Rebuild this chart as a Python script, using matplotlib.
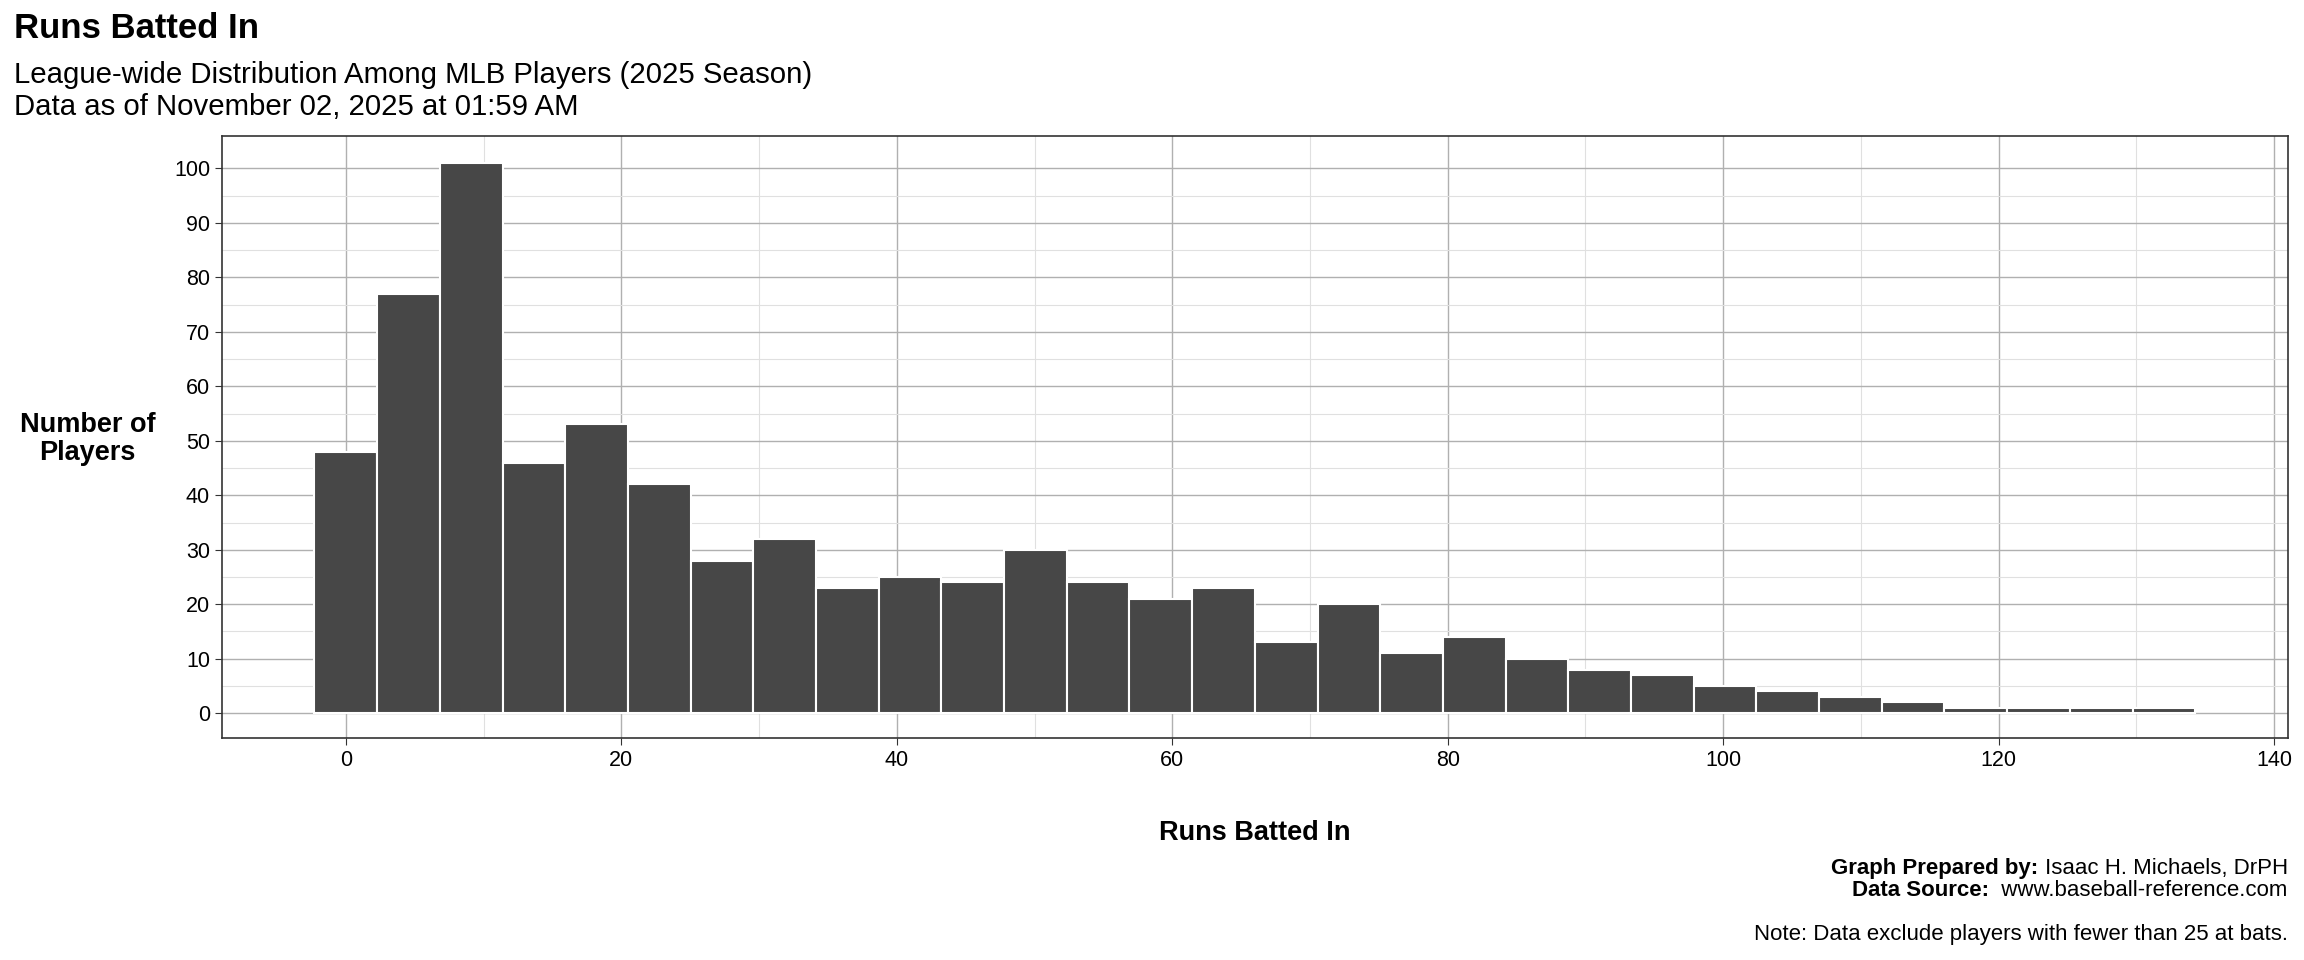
import matplotlib
matplotlib.use("Agg")
from matplotlib import pyplot as plt
import numpy as np

plt.rcParams['font.family'] = ['Liberation Sans', 'DejaVu Sans']

# histogram counts (30 bins)
counts = [48, 77, 101, 46, 53, 42, 28, 32, 23, 25, 24, 30, 24, 21, 23,
          13, 20, 11, 14, 10, 8, 7, 5, 4, 3, 2, 1, 1, 1, 1]
bin_start = 0
bin_end = 132
binwidth = (bin_end - bin_start) / (len(counts) - 1)
centers = bin_start + binwidth * np.arange(len(counts))

fig = plt.figure(figsize=(23.04, 9.6), dpi=100)
ax = fig.add_axes([0.0963, 0.231, 0.8967, 0.627])

ax.bar(centers, counts, width=binwidth, color='#474747', edgecolor='white', linewidth=1.5, zorder=3)

ax.set_xlim(-9, 141)
ax.set_ylim(-4.6, 105.9)
ax.set_xticks(np.arange(0, 141, 20))
ax.set_xticks(np.arange(10, 141, 20), minor=True)
ax.set_yticks(np.arange(0, 101, 10))
ax.set_yticks(np.arange(5, 101, 10), minor=True)
ax.grid(which='major', color='#b0b0b0', linewidth=1.0, zorder=0)
ax.grid(which='minor', color='#e0e0e0', linewidth=0.8, zorder=0)
ax.tick_params(which='major', labelsize=15.5, length=5, color='#333333')
ax.tick_params(which='minor', length=0)
for s in ax.spines.values():
    s.set_color('#333333')
    s.set_linewidth(1.2)

ax.set_xlabel('Runs Batted In', fontsize=19.5, fontweight='bold', labelpad=35)
fig.text(0.038, 0.543, 'Number of\nPlayers', fontsize=19.5, fontweight='bold',
         ha='center', va='center', linespacing=1.1)

fig.text(0.006, 0.97, 'Runs Batted In', fontsize=25, fontweight='bold', va='center')
fig.text(0.006, 0.922, 'League-wide Distribution Among MLB Players (2025 Season)',
         fontsize=21.2, va='center')
fig.text(0.006, 0.889, 'Data as of November 02, 2025 at 01:59 AM', fontsize=21.2, va='center')

# footer: bold label followed by regular text, right-aligned
renderer = fig.canvas.get_renderer()
for y, label, value in [(0.095, 'Graph Prepared by:', ' Isaac H. Michaels, DrPH'),
                        (0.072, 'Data Source:', '  www.baseball-reference.com')]:
    t = fig.text(0.993, y, value, fontsize=16, ha='right', va='center')
    left = t.get_window_extent(renderer).x0 / fig.bbox.width
    fig.text(left, y, label, fontsize=16, fontweight='bold', ha='right', va='center')
fig.text(0.993, 0.027, 'Note: Data exclude players with fewer than 25 at bats.',
         fontsize=16, ha='right', va='center')

fig.savefig('out.png', dpi=100, facecolor='white')
